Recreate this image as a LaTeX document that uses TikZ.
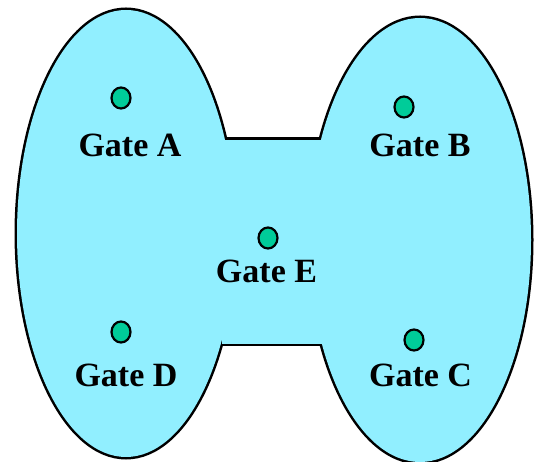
\documentclass[tikz,border=0pt]{standalone}
\usepackage{fontspec}
\setmainfont{Liberation Serif}
\usetikzlibrary{shapes.geometric}
\definecolor{regionfill}{RGB}{145,239,255}
\definecolor{gatefill}{RGB}{0,204,153}
\begin{document}
\begin{tikzpicture}[x=1pt,y=1pt,
  outline/.style={draw=black,line width=5pt},
  region/.style={fill=regionfill},
  gatedot/.style={draw=black,line width=2.2pt,fill=gatefill,ellipse,minimum width=19pt,minimum height=21pt,inner sep=0pt},
  gatelabel/.style={anchor=base,inner sep=0pt,font=\bfseries\fontsize{34}{40}\selectfont}]
\useasboundingbox (0,0) rectangle (540,462);
% outline of the union: thick strokes, then fills on top
\path[outline] (126,228.5) ellipse [x radius=109,y radius=223.5];
\path[outline] (420,222) ellipse [x radius=111,y radius=222];
\path[outline] (222,118) rectangle (324,322);
\path[region] (126,228.5) ellipse [x radius=109,y radius=223.5];
\path[region] (420,222) ellipse [x radius=111,y radius=222];
\path[region] (222,118) rectangle (324,322);
% gates
\node[gatedot] (dA) at (121,364) {};
\node[gatedot] (dB) at (404,355) {};
\node[gatedot] (dE) at (268,224) {};
\node[gatedot] (dD) at (121,130) {};
\node[gatedot] (dC) at (414,122) {};
\node[gatelabel] (lA) at (130,305) {Gate A};
\node[gatelabel] (lB) at (420,305) {Gate B};
\node[gatelabel] (lE) at (266.5,179) {Gate E};
\node[gatelabel] (lD) at (126,75) {Gate D};
\node[gatelabel] (lC) at (420.5,75) {Gate C};
\end{tikzpicture}
\end{document}
